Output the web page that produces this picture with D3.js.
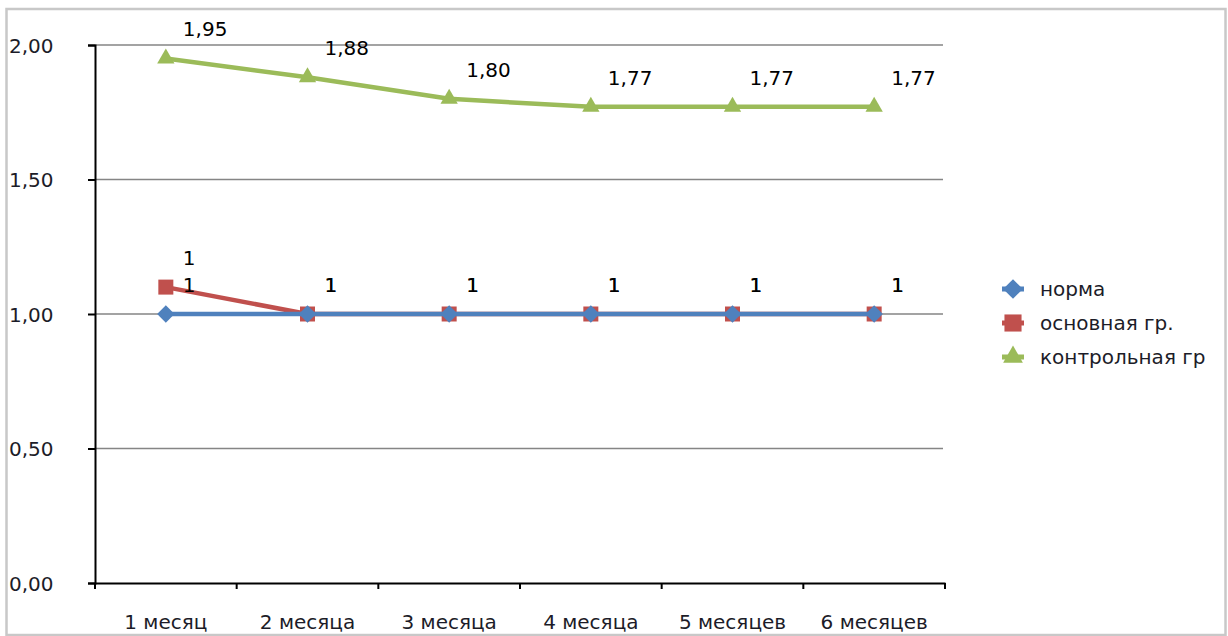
<!DOCTYPE html>
<html>
<head>
<meta charset="utf-8">
<script src="https://cdn.jsdelivr.net/npm/d3@7"></script>
<style>
  html, body { margin: 0; padding: 0; background: #fff; }
  svg { display: block; }
  text { font-family: "DejaVu Sans", sans-serif; }
</style>
</head>
<body>
<svg id="chart" width="1228" height="636"></svg>
<script>
// Months along the x axis
const categories = ["1 месяц", "2 месяца", "3 месяца", "4 месяца", "5 месяцев", "6 месяцев"];
// Series values
const normaValues = [1.00, 1.00, 1.00, 1.00, 1.00, 1.00];
const mainGroupValues = [1.10, 1.00, 1.00, 1.00, 1.00, 1.00];
const controlGroupValues = [1.95, 1.88, 1.80, 1.77, 1.77, 1.77];
// Y axis ticks
const yTicks = [0, 0.5, 1.0, 1.5, 2.0];

const comma = f => v => d3.format(f)(v).replace(".", ",");

// Marker shapes: diamond is a square turned by 45 degrees
const diamond = { draw(ctx, size) {
  const r = Math.sqrt(size) / 2 * Math.SQRT2;
  ctx.moveTo(0, -r); ctx.lineTo(r, 0); ctx.lineTo(0, r); ctx.lineTo(-r, 0); ctx.closePath();
} };

const series = [
  { name: "норма", values: normaValues, color: "#4f81bd", symbol: diamond, size: 150, fmt: d3.format(".0f") },
  { name: "основная гр.", values: mainGroupValues, color: "#c0504d", symbol: d3.symbolSquare, size: 225, fmt: d3.format(".0f") },
  { name: "контрольная гр", values: controlGroupValues, color: "#9bbb59", symbol: d3.symbolTriangle, size: 130, fmt: comma(".2f") }
];
// Drawing order: later series on top
const drawOrder = [2, 1, 0];

const svg = d3.select("#chart");
const textColor = "#1c1c28";
const fontSize = 20;

// Outer frame
svg.append("rect")
  .attr("x", 6.5).attr("y", 9).attr("width", 1219).attr("height", 626)
  .attr("fill", "#fff").attr("stroke", "#c8c8c8").attr("stroke-width", 2.5);

const x = d3.scaleBand().domain(categories).range([95, 945]);
const y = d3.scaleLinear().domain([0, 2]).range([583, 45]);

// Horizontal gridlines
svg.append("g")
  .selectAll("line")
  .data(yTicks.filter(t => t > 0))
  .join("line")
  .attr("x1", 95).attr("x2", 943)
  .attr("y1", d => y(d)).attr("y2", d => y(d))
  .attr("stroke", "#858585").attr("stroke-width", 1.5);

// Y axis
const yAxis = svg.append("g")
  .attr("transform", "translate(95,0)")
  .call(d3.axisLeft(y).tickValues(yTicks).tickSize(7).tickFormat(comma(".2f")));
yAxis.select(".domain").attr("stroke", "#000").attr("stroke-width", 2);
yAxis.selectAll(".tick line").attr("stroke", "#000").attr("stroke-width", 2);
yAxis.selectAll(".tick text")
  .attr("x", -86).attr("text-anchor", "start").attr("dy", "0.36em")
  .attr("font-size", fontSize).attr("font-family", "DejaVu Sans").attr("fill", textColor);

// X axis
const xAxis = svg.append("g")
  .attr("transform", "translate(0,583)")
  .call(d3.axisBottom(x).tickSize(0).tickFormat(d => d));
xAxis.select(".domain").attr("stroke", "#000").attr("stroke-width", 2);
xAxis.selectAll(".tick text")
  .attr("y", 46).attr("dy", 0)
  .attr("font-size", fontSize).attr("font-family", "DejaVu Sans").attr("fill", textColor);
// Tick marks at band boundaries
const bounds = categories.map(c => x(c)).concat([x.range()[1]]);
xAxis.append("g")
  .selectAll("line")
  .data(bounds)
  .join("line")
  .attr("x1", d => d).attr("x2", d => d)
  .attr("y1", 0).attr("y2", 6)
  .attr("stroke", "#000").attr("stroke-width", 2);

const cx = c => x(c) + x.bandwidth() / 2;
const line = d3.line().x((d, i) => cx(categories[i])).y(d => y(d));

// Lines and markers
drawOrder.forEach(k => {
  const s = series[k];
  const g = svg.append("g");
  g.append("path")
    .datum(s.values)
    .attr("d", line)
    .attr("fill", "none")
    .attr("stroke", s.color)
    .attr("stroke-width", 4.5)
    .attr("stroke-linejoin", "round");
  g.selectAll("path.m")
    .data(s.values)
    .join("path")
    .attr("class", "m")
    .attr("transform", (d, i) => `translate(${cx(categories[i])},${y(d)})`)
    .attr("d", d3.symbol().type(s.symbol).size(s.size))
    .attr("fill", s.color);
});

// Value labels
series.forEach(s => {
  svg.append("g").selectAll("text")
    .data(s.values)
    .join("text")
    .attr("x", (d, i) => cx(categories[i]) + 17)
    .attr("y", d => y(d) - 22)
    .attr("font-size", fontSize)
    .attr("fill", "#000")
    .text(d => s.fmt(d));
});

// Legend
const legend = svg.append("g").attr("transform", "translate(1013,289)");
series.forEach((s, i) => {
  const row = legend.append("g").attr("transform", `translate(0,${i * 34})`);
  row.append("line").attr("x1", -11).attr("x2", 11).attr("y1", 0).attr("y2", 0)
    .attr("stroke", s.color).attr("stroke-width", 5);
  row.append("path")
    .attr("d", d3.symbol().type(s.symbol).size(s.size * 1.3))
    .attr("fill", s.color);
  row.append("text")
    .attr("x", 27).attr("y", 7)
    .attr("font-size", fontSize).attr("fill", textColor)
    .text(s.name);
});
</script>
</body>
</html>
